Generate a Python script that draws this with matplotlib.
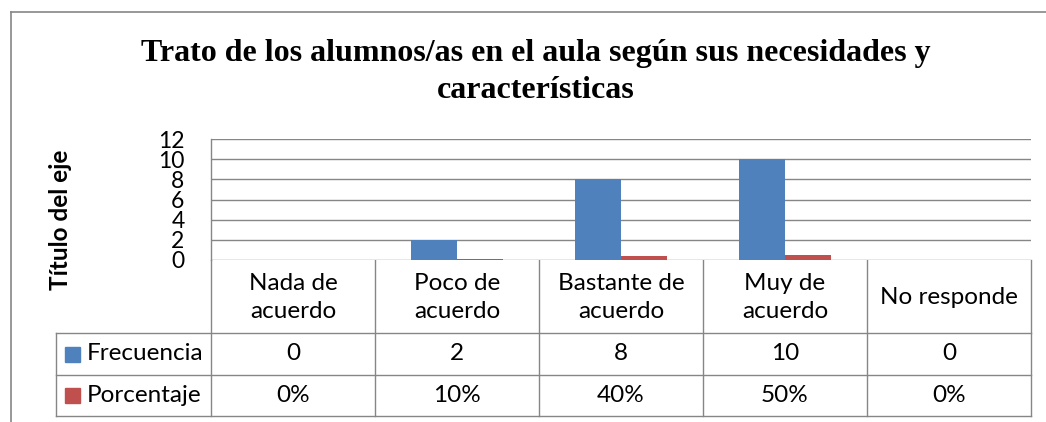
import numpy as np
import matplotlib.pyplot as plt
from matplotlib.lines import Line2D
from matplotlib.patches import Rectangle

# ---------- data ----------
categorias = ["Nada de\nacuerdo", "Poco de\nacuerdo", "Bastante de\nacuerdo",
              "Muy de\nacuerdo", "No responde"]
frecuencia = [0, 2, 8, 10, 0]
porcentaje = [0.0, 0.10, 0.40, 0.50, 0.0]
series = ["Frecuencia", "Porcentaje"]
colores = ["#4F81BD", "#C0504D"]
yticks = [0, 2, 4, 6, 8, 10, 12]

titulo = "Trato de los alumnos/as en el aula según sus necesidades y\ncaracterísticas"
eje_y = "Título del eje"

W, H = 1046, 422
fig = plt.figure(figsize=(W / 100, H / 100), dpi=100)
gris = "#868686"
fuente = "Lato"
fs = 17.5

# plot area in pixel coords
x0, x1 = 211, 1031
y_top, y_bot = 139, 260
ax = fig.add_axes([x0 / W, 1 - y_bot / H, (x1 - x0) / W, (y_bot - y_top) / H])

n = len(categorias)
idx = np.arange(n)
w = 0.28
ax.bar(idx - w / 2, frecuencia, width=w, color=colores[0], zorder=3)
ax.bar(idx + w / 2, porcentaje, width=w, color=colores[1], zorder=3)

ax.set_xlim(-0.5, n - 0.5)
ax.set_ylim(0, 12)
ax.set_yticks(yticks)
ax.set_yticklabels([str(t) for t in yticks], fontsize=16.5, fontfamily=fuente)
ax.tick_params(axis="y", length=0, pad=19)
ax.set_xticks([])
ax.yaxis.grid(True, color=gris, lw=1)
for s in ["top", "right", "bottom"]:
    ax.spines[s].set_visible(False)
ax.spines["left"].set_color(gris)
ax.spines["left"].set_linewidth(1)

# overlay in pixels for title, table and frame
ov = fig.add_axes([0, 0, 1, 1], zorder=-1)
ov.set_xlim(0, W)
ov.set_ylim(H, 0)
ov.axis("off")

# outer frame (only top and left visible)
ov.add_line(Line2D([11, W], [12, 12], color=gris, lw=1.2))
ov.add_line(Line2D([11, 11], [12, H], color=gris, lw=1.2))

ov.text(536, 72, titulo, ha="center", va="center", fontsize=23,
        fontweight="bold", fontfamily="Liberation Serif", linespacing=1.4)
ov.text(60, 220, eje_y, ha="center", va="center", rotation=90, fontsize=17.5,
        fontweight="bold", fontfamily=fuente)

# data table
col_w = (x1 - x0) / n
bordes = [x0 + i * col_w for i in range(n + 1)]
r0, r1, r2, r3 = 260, 333, 375, 416
leg_x = 56
for xb in bordes:
    ov.add_line(Line2D([xb, xb], [r0, r3], color=gris, lw=1))
ov.add_line(Line2D([leg_x, leg_x], [r1, r3], color=gris, lw=1))
for yb in [r1, r2, r3]:
    ov.add_line(Line2D([leg_x, x1], [yb, yb], color=gris, lw=1))

for i, cat in enumerate(categorias):
    cx = bordes[i] + col_w / 2
    ov.text(cx, (r0 + r1) / 2 + 1, cat, ha="center", va="center",
            fontsize=fs, fontfamily=fuente, linespacing=1.4)
    ov.text(cx, (r1 + r2) / 2, str(frecuencia[i]), ha="center", va="center",
            fontsize=fs, fontfamily=fuente)
    ov.text(cx, (r2 + r3) / 2, f"{round(porcentaje[i] * 100)}%", ha="center",
            va="center", fontsize=fs, fontfamily=fuente)

for j, (nombre, c) in enumerate(zip(series, colores)):
    yc = [(r1 + r2) / 2, (r2 + r3) / 2][j]
    ov.add_patch(Rectangle((65, yc - 7.5), 15, 15, color=c))
    ov.text(87, yc, nombre, ha="left", va="center", fontsize=fs,
            fontfamily=fuente)

fig.savefig("out.png", dpi=100)
